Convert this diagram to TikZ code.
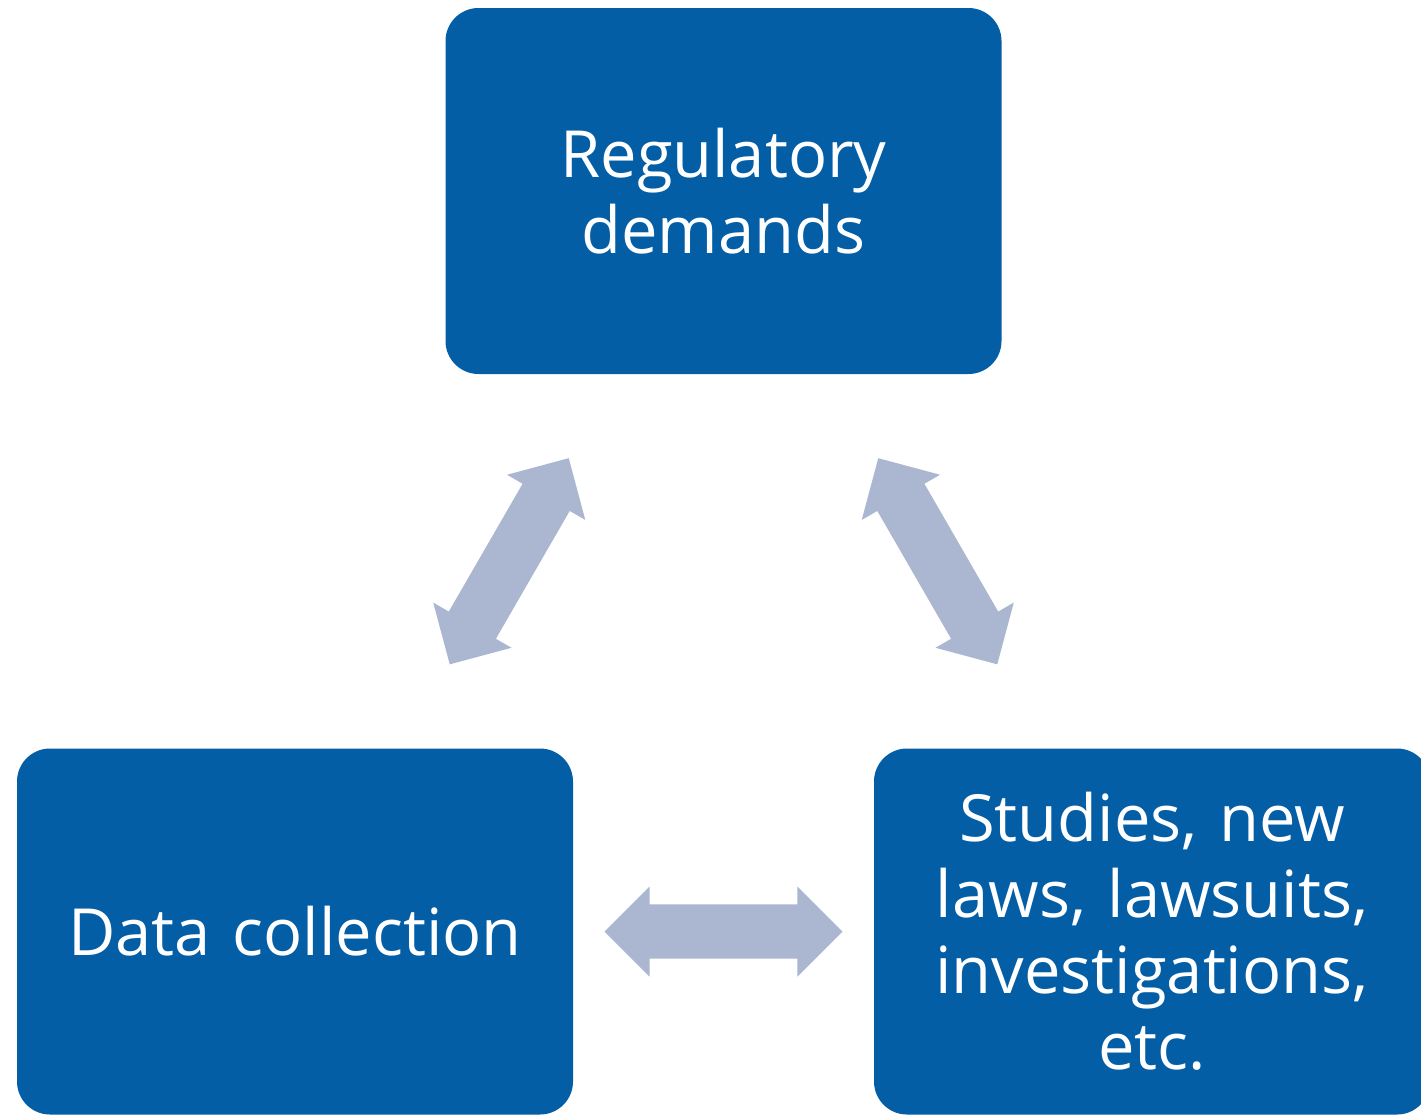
\documentclass[tikz,border=0pt]{standalone}
\usepackage{fontspec}
\setmainfont{Open Sans}
\usetikzlibrary{shapes.arrows,calc}
\definecolor{boxblue}{HTML}{035EA6}
\definecolor{arrowgray}{HTML}{ABB6D1}
\begin{document}
\begin{tikzpicture}[x=1pt,y=-1pt]
	\tikzstyle{box} = [fill=boxblue, rounded corners=33pt, minimum width=556pt, minimum height=366pt, inner sep=0pt, text width=500pt, align=center, text=white, font=\fontsize{65}{76}\selectfont]
	\tikzstyle{dblarrow} = [shape=double arrow, fill=arrowgray, minimum height=238pt, inner xsep=0pt, inner ysep=27pt, double arrow head extend=18pt]
	
	\useasboundingbox (0,0) rectangle (1421,1114);
	\node [box] (reg) at (723.5,191) {Regulatory\\demands};
	\node [box] (data) at (295,931.5) {Data collection};
	\node [box] (studies) at (1152,931.5) {Studies, new\\laws, lawsuits,\\investigations,\\etc.};
	
	\node [dblarrow, rotate=60] (a1) at ($(reg)!0.5!(data)$) {};
	\node [dblarrow, rotate=-60] (a2) at ($(reg)!0.5!(studies)$) {};
	\node [dblarrow] (a3) at ($(data)!0.5!(studies)$) {};
\end{tikzpicture}
\end{document}
